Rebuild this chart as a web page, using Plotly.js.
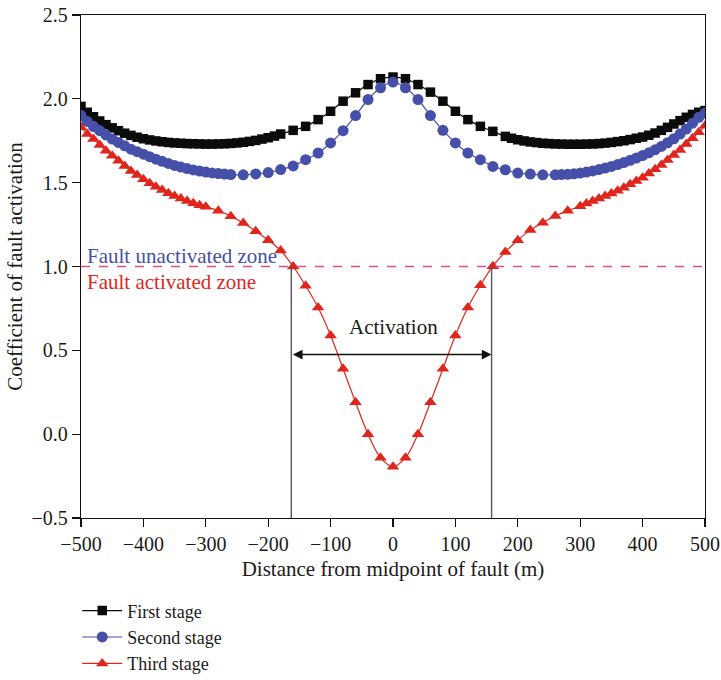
<!DOCTYPE html>
<html>
<head>
<meta charset="utf-8">
<script src="https://cdn.plot.ly/plotly-3.0.1.min.js"></script>
<style>html,body{margin:0;padding:0;background:#fff;}#chart{width:721px;height:680px;}</style>
</head>
<body>
<div id="chart"></div>
<script>
// ---------- data ----------
const firstX = [-500,-490,-480,-470,-460,-450,-440,-430,-420,-410,-400,-390,-380,-370,-360,-350,-340,-330,-320,-310,-300,-290,-280,-270,-260,-250,-240,-230,-220,-210,-200,-190,-180,
  -160,-140,-120,-100,-80,-60,-40,-20,0,20,40,60,80,100,120,140,160,
  180,190,200,210,220,230,240,250,260,270,280,290,300,310,320,330,340,350,360,370,380,390,400,410,420,430,440,450,460,470,480,490,500];
const firstY = [1.955,1.92,1.893,1.868,1.846,1.827,1.81,1.795,1.782,1.771,1.762,1.755,1.749,1.744,1.74,1.737,1.735,1.733,1.732,1.731,1.73,1.73,1.731,1.732,1.734,1.737,1.741,1.746,1.752,1.76,1.768,1.778,1.79,
  1.812,1.836,1.876,1.926,1.986,2.036,2.085,2.12,2.13,2.12,2.085,2.04,1.986,1.926,1.876,1.836,1.806,
  1.776,1.765,1.756,1.749,1.743,1.739,1.735,1.733,1.731,1.73,1.729,1.729,1.729,1.73,1.731,1.733,1.736,1.74,1.745,1.75,1.757,1.765,1.772,1.783,1.796,1.812,1.83,1.85,1.87,1.89,1.907,1.92,1.93];

const secondX = [-500,-490,-480,-470,-460,-450,-440,-430,-420,-410,-400,-390,-380,-370,-360,-350,-340,-330,-320,-310,-300,-290,-280,-270,-260,
  -240,-220,-200,-180,-160,-140,-120,-100,-80,-60,-40,-20,0,20,40,60,80,100,120,140,160,180,200,220,240,
  260,270,280,290,300,310,320,330,340,350,360,370,380,390,400,410,420,430,440,450,460,470,480,490,500];
const secondY = [1.90,1.865,1.835,1.81,1.785,1.76,1.74,1.72,1.70,1.685,1.67,1.655,1.64,1.627,1.615,1.603,1.593,1.584,1.576,1.569,1.563,1.558,1.554,1.551,1.548,
  1.547,1.552,1.56,1.578,1.60,1.637,1.677,1.737,1.81,1.90,1.996,2.066,2.10,2.066,1.996,1.90,1.812,1.737,1.677,1.637,1.597,1.577,1.557,1.551,1.547,
  1.547,1.548,1.55,1.553,1.557,1.563,1.57,1.578,1.587,1.597,1.608,1.62,1.633,1.647,1.662,1.678,1.696,1.716,1.738,1.762,1.79,1.82,1.855,1.89,1.915];

const thirdX = [-500,-490,-480,-470,-460,-450,-440,-430,-420,-410,-400,-390,-380,-370,-360,-350,-340,-330,-320,-310,-300,
  -280,-260,-240,-220,-200,-180,-160,-140,-120,-100,-80,-60,-40,-20,0,20,40,60,80,100,120,140,160,180,200,220,240,260,280,
  300,310,320,330,340,350,360,370,380,390,400,410,420,430,440,450,460,470,480,490,500];
const thirdY = [1.83,1.79,1.76,1.725,1.69,1.66,1.63,1.60,1.57,1.545,1.52,1.497,1.476,1.456,1.437,1.42,1.405,1.39,1.377,1.366,1.356,
  1.333,1.30,1.259,1.21,1.157,1.095,1.0,0.885,0.755,0.589,0.39,0.19,0.0,-0.14,-0.194,-0.14,0.0,0.19,0.39,0.589,0.755,0.888,1.002,1.087,1.157,1.217,1.261,1.301,1.333,
  1.36,1.375,1.39,1.405,1.42,1.435,1.452,1.47,1.49,1.51,1.53,1.555,1.58,1.605,1.635,1.665,1.695,1.73,1.765,1.80,1.84];

const seriesNames = ['First stage', 'Second stage', 'Third stage'];
const thresholdValue = 1.0;
const activationBounds = [-163, 158];
const activationArrowY = 0.475;
const xTicks = [-500,-400,-300,-200,-100,0,100,200,300,400,500];
const yTicks = [-0.5,0.0,0.5,1.0,1.5,2.0,2.5];
const yTickText = ['\u22120.5','0.0','0.5','1.0','1.5','2.0','2.5'];

// ---------- styles ----------
const FONT = 'Liberation Serif, Times New Roman, serif';
const BLACK = '#0b0b0b', BLUE = '#4650aa', RED = '#e0261c', TXT = '#1a1a1a';

const traces = [
  {x: firstX, y: firstY, name: seriesNames[0], type: 'scatter', mode: 'lines+markers',
   line: {color: BLACK, width: 1.2, shape: 'spline'}, marker: {symbol: 'square', size: 9.5, color: BLACK}},
  {x: secondX, y: secondY, name: seriesNames[1], type: 'scatter', mode: 'lines+markers',
   line: {color: BLUE, width: 1.2, shape: 'spline'}, marker: {symbol: 'circle', size: 11, color: BLUE}},
  {x: thirdX, y: thirdY, name: seriesNames[2], type: 'scatter', mode: 'lines+markers',
   line: {color: RED, width: 1.2, shape: 'spline'}, marker: {symbol: 'triangle-up', size: 11, color: RED}}
];

const layout = {
  width: 721, height: 680,
  margin: {l: 81, r: 16, t: 15, b: 162, autoexpand: false},
  paper_bgcolor: '#fff', plot_bgcolor: '#fff',
  font: {family: FONT, size: 19, color: TXT},
  showlegend: true,
  legend: {x: -0.006, y: -0.3268, xanchor: 'left', yanchor: 'bottom', orientation: 'v',
           font: {family: FONT, size: 18, color: TXT}, bgcolor: 'rgba(0,0,0,0)',
           tracegroupgap: 0, itemwidth: 40},
  xaxis: {range: [-500, 500], tickvals: xTicks, ticks: 'outside', ticklen: 8, tickwidth: 1.3,
          tickcolor: '#111', showline: true, linecolor: '#111', linewidth: 1.3, mirror: true,
          showgrid: false, zeroline: false, tickfont: {family: FONT, size: 20, color: TXT},
          title: {text: 'Distance from midpoint of fault (m)', font: {family: FONT, size: 21, color: TXT}, standoff: 7}},
  yaxis: {range: [-0.5, 2.5], tickvals: yTicks, ticktext: yTickText, ticks: 'outside', ticklen: 8, tickwidth: 1.3,
          tickcolor: '#111', showline: true, linecolor: '#111', linewidth: 1.3, mirror: true,
          showgrid: false, zeroline: false, tickfont: {family: FONT, size: 20, color: TXT},
          title: {text: 'Coefficient of fault activation', font: {family: FONT, size: 21, color: TXT}, standoff: 3}},
  shapes: [
    {type: 'line', xref: 'paper', yref: 'y', x0: 0, x1: 1, y0: thresholdValue, y1: thresholdValue,
     line: {color: '#e0508a', width: 1.3, dash: 'dash'}},
    {type: 'line', xref: 'x', yref: 'y', x0: activationBounds[0], x1: activationBounds[0], y0: -0.5, y1: thresholdValue,
     line: {color: '#55555f', width: 1.4}},
    {type: 'line', xref: 'x', yref: 'y', x0: activationBounds[1], x1: activationBounds[1], y0: -0.5, y1: thresholdValue,
     line: {color: '#55555f', width: 1.4}}
  ],
  annotations: [
    {xref: 'x', yref: 'y', x: activationBounds[1], y: activationArrowY, ax: activationBounds[0], ay: activationArrowY,
     axref: 'x', ayref: 'y', text: '', showarrow: true, arrowside: 'end+start', arrowhead: 2, arrowsize: 1.4,
     arrowwidth: 1.4, arrowcolor: '#111', standoff: 0, startstandoff: 0},
    {xref: 'x', yref: 'y', x: 0, y: 0.64, text: 'Activation', showarrow: false,
     font: {family: FONT, size: 21, color: TXT}},
    {xref: 'paper', yref: 'y', x: 0.006, y: thresholdValue, yanchor: 'bottom', xanchor: 'left', text: 'Fault unactivated zone',
     showarrow: false, yshift: -3, font: {family: FONT, size: 21, color: BLUE}},
    {xref: 'paper', yref: 'y', x: 0.006, y: thresholdValue, yanchor: 'top', xanchor: 'left', text: 'Fault activated zone',
     showarrow: false, yshift: -1, font: {family: FONT, size: 21, color: RED}}
  ]
};

Plotly.newPlot('chart', traces, layout, {displayModeBar: false, staticPlot: true});
</script>
</body>
</html>
